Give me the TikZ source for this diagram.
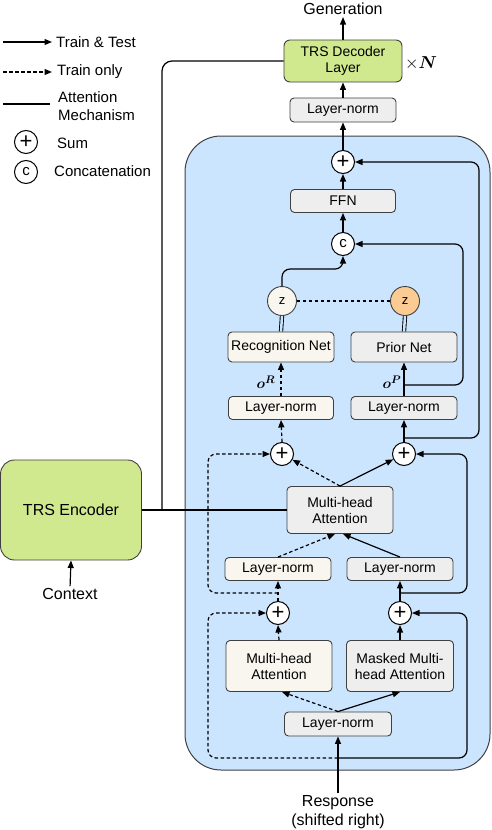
\documentclass[tikz,border=0pt]{standalone}
\usepackage{amsmath}
\usepackage{fontspec}
\setmainfont{Liberation Sans}
\usetikzlibrary{arrows.meta,calc}
\definecolor{bluebg}{HTML}{CCE5FF}
\definecolor{grnbox}{HTML}{D1E98E}
\definecolor{boxbeige}{HTML}{F8F6EE}
\definecolor{boxgray}{HTML}{EEEEEE}
\definecolor{zorange}{HTML}{FCCB93}
\definecolor{edge}{HTML}{404040}
\begin{document}
\begin{tikzpicture}[x=1pt,y=-1pt,
 blk/.style={draw=edge, line width=0.9pt, rounded corners=4pt, inner sep=0pt, align=center, font=\fontsize{14}{16}\selectfont},
 grayb/.style={blk, fill=boxgray},
 beigeb/.style={blk, fill=boxbeige},
 sumc/.style={circle, draw=black, fill=white, line width=1pt, minimum size=23pt, inner sep=0pt, font=\fontsize{22}{22}\selectfont},
 catc/.style={sumc, font=\fontsize{15}{15}\selectfont},
 zc/.style={circle, draw=edge, line width=0.9pt, minimum size=29pt, inner sep=0pt, font=\fontsize{13}{13}\selectfont},
 arr/.style={line width=1.2pt, -{Triangle[length=7.5pt,width=6pt]}},
 ln/.style={line width=1.2pt},
 dsh/.style={dash pattern=on 3.5pt off 2.5pt},
 lbl/.style={font=\fontsize{16}{19}\selectfont, inner sep=0pt, align=center},
 leg/.style={font=\fontsize{15}{18}\selectfont, inner sep=0pt, align=left},
 mlab/.style={font=\fontsize{15}{15}\selectfont, inner sep=0pt}
]
\useasboundingbox (0,0) rectangle (492,830);

% decoder block background
\node[draw=edge, line width=1pt, fill=bluebg, rounded corners=36pt, minimum width=305pt, minimum height=634pt, inner sep=0pt] (blk) at (337.5,453) {};

% legend
\coordinate (l1a) at (3,42); \coordinate (l1b) at (52,42);
\draw[arr] (l1a) -- (l1b);
\node[leg, anchor=west] (lt1) at (56,42) {Train \& Test};
\coordinate (l2a) at (3,72); \coordinate (l2b) at (52,72);
\draw[arr, dsh] (l2a) -- (l2b);
\node[leg, anchor=west] (lt2) at (57,72) {Train only};
\coordinate (l3a) at (3,104); \coordinate (l3b) at (50,104);
\draw[ln] (l3a) -- (l3b);
\node[leg, anchor=west] (lt3) at (58,106) {Attention\\Mechanism};
\node[sumc] (lgs) at (26,142) {+};
\node[leg, anchor=west] (lt4) at (57,143) {Sum};
\node[catc] (lgc) at (26,172) {c};
\node[leg, anchor=west] (lt5) at (54,171) {Concatenation};

% top part
\node[lbl] (gen) at (343,9) {Generation};
\node[blk, fill=grnbox, minimum width=118pt, minimum height=42pt, rounded corners=6pt] (dec) at (343,61) {TRS Decoder\\Layer};
\node[font=\fontsize{17}{17}\selectfont, inner sep=0pt] (xn) at (421,63) {$\times\boldsymbol{N}$};
\node[grayb, minimum width=106pt, minimum height=24pt] (lnT) at (343,110) {Layer-norm};
\node[sumc] (sumT) at (343,162) {+};
\node[grayb, minimum width=105pt, minimum height=23pt] (ffn) at (343,201) {FFN};
\node[catc] (cc) at (343,244) {c};
\node[zc, fill=boxbeige] (zL) at (282,301) {z};
\node[zc, fill=zorange] (zR) at (405,301) {z};
\node[beigeb, minimum width=106pt, minimum height=30pt] (rec) at (281,347) {Recognition Net};
\node[grayb, minimum width=106pt, minimum height=30pt] (prior) at (404,347) {Prior Net};
\node[beigeb, minimum width=105pt, minimum height=23pt] (lnL) at (281,408) {Layer-norm};
\node[grayb, minimum width=106pt, minimum height=23pt] (lnR) at (404,408) {Layer-norm};
\node[sumc] (sumL2) at (282,454) {+};
\node[sumc] (sumR2) at (404,454) {+};
\node[grayb, minimum width=106pt, minimum height=47pt] (mhaM) at (340,510) {Multi-head\\Attention};
\node[beigeb, minimum width=106pt, minimum height=23pt] (lnL2) at (278,569) {Layer-norm};
\node[grayb, minimum width=106pt, minimum height=23pt] (lnR2) at (400,569) {Layer-norm};
\node[sumc] (sumL1) at (278,613) {+};
\node[sumc] (sumR1) at (400,613) {+};
\node[beigeb, minimum width=106pt, minimum height=51pt] (mhaL) at (279,666) {Multi-head\\Attention};
\node[grayb, minimum width=107pt, minimum height=51pt] (mhaR) at (400,666) {Masked Multi-\\head Attention};
\node[grayb, minimum width=107pt, minimum height=24pt] (lnB) at (338,724) {Layer-norm};
\node[lbl] (resp) at (338,812) {Response\\(shifted right)};
\node[blk, fill=grnbox, minimum width=141pt, minimum height=100pt, rounded corners=14pt, font=\fontsize{16}{19}\selectfont] (enc) at (71,510) {TRS Encoder};
\node[lbl] (ctx) at (70,594) {Context};

\node[mlab] (oR) at (266,382) {$\boldsymbol{o}^{\boldsymbol{R}}$};
\node[mlab] (oP) at (392,382) {$\boldsymbol{o}^{\boldsymbol{P}}$};

% connectors top
\draw[arr, shorten >=2pt] (dec.north) -- (gen.south);
\draw[arr] (lnT.north) -- (dec.south);
\draw[arr] (sumT.north) -- (lnT.south);
\draw[arr] (ffn.north) -- (sumT.south);
\draw[arr] (cc.north) -- (ffn.south);
\draw[arr, rounded corners=8pt] (zL.north) -- ++(0,-17) -| (cc.south);
\draw[ln, dsh] (zL) -- (zR);
\draw[line width=0.9pt, double=bluebg, double distance=2.5pt] (rec.north) -- (zL.south);
\draw[line width=0.9pt, double=bluebg, double distance=2.5pt] (prior.north) -- (zR.south);
\draw[arr, dsh] (lnL.north) -- (rec.south);
\draw[arr] (lnR.north) -- (prior.south);
\coordinate (jP) at (404,385);
\draw[arr, rounded corners=8pt] (jP) -- ++(59,0) |- (cc.east);
\coordinate (jT) at (404,438);
\draw[arr, rounded corners=8pt] (jT) -- ++(75,0) |- (sumT.east);
\draw[arr, dsh] (sumL2.north) -- (lnL.south);
\draw[arr] (sumR2.north) -- (lnR.south);
\draw[arr, dsh] (mhaM.north) -- (sumL2);
\draw[arr] (mhaM.north) -- (sumR2);

% encoder lines
\draw[ln] (enc.east) -- (mhaM.west);
\coordinate (jE) at (162,510);
\draw[ln, rounded corners=10pt] (jE) |- (dec.west);
\draw[arr, shorten <=2pt] (ctx.north) -- (enc.south);

% middle
\draw[arr, dsh] (lnL2.north) -- ([xshift=-5pt]mhaM.south);
\draw[arr] (lnR2.north) -- ([xshift=3pt]mhaM.south);
\draw[arr, dsh] (sumL1.north) -- (lnL2.south);
\draw[arr] (sumR1.north) -- (lnR2.south);
\coordinate (jL1) at (278,593);
\coordinate (jR1) at (400,593);
\draw[arr, dsh, rounded corners=8pt] (jL1) -- ++(-70,0) |- (sumL2.west);
\draw[arr, rounded corners=8pt] (jR1) -- ++(67,0) |- (sumR2.east);

% bottom
\draw[arr, dsh] (mhaL.north) -- (sumL1.south);
\draw[arr] (mhaR.north) -- (sumR1.south);
\draw[arr, dsh] (lnB.north) -- ([xshift=3pt]mhaL.south);
\draw[arr] (lnB.north) -- (mhaR.south);
\draw[arr, shorten <=2pt] (resp.north) -- (lnB.south);
\coordinate (jB) at (338,758);
\draw[arr, dsh, rounded corners=8pt] (jB) -- ++(-130,0) |- (sumL1.west);
\draw[arr, rounded corners=8pt] (jB) -- ++(129,0) |- (sumR1.east);
\end{tikzpicture}
\end{document}
